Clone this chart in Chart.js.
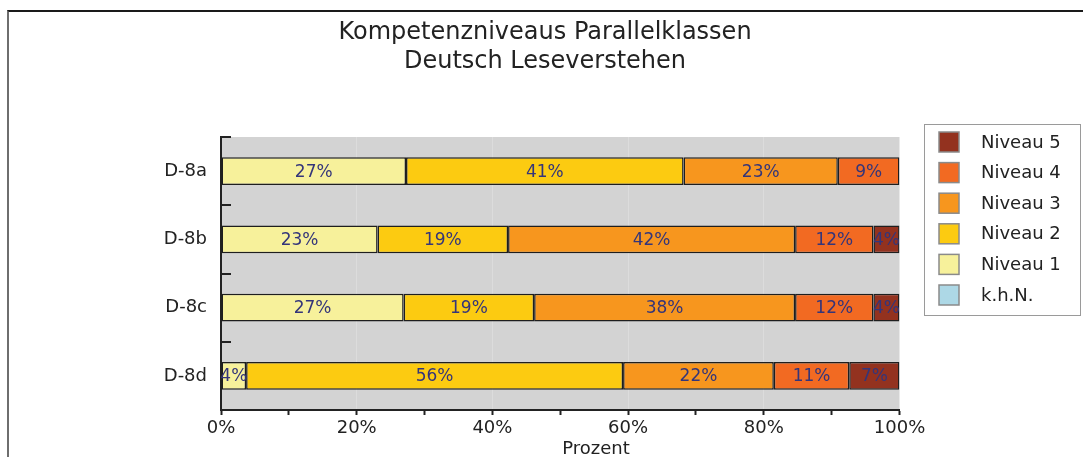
<!DOCTYPE html>
<html>
<head>
<meta charset="utf-8">
<script src="https://cdn.jsdelivr.net/npm/chart.js@4/dist/chart.umd.min.js"></script>
<style>
  html, body { margin: 0; padding: 0; background: #fff; }
  #wrap { position: relative; width: 1083px; height: 457px; overflow: hidden; }
  #frame { position: absolute; left: 7px; top: 10px; right: 0; bottom: 0;
           border-top: 2px solid #1a1a1a; border-left: 2px solid #6e6e6e; pointer-events: none; }
</style>
</head>
<body>
<div id="wrap">
  <canvas id="c" width="1083" height="457"></canvas>
  <div id="frame"></div>
</div>
<script>
// values (percent of pupils per level)
const categories = ['D-8a', 'D-8b', 'D-8c', 'D-8d'];
const khn     = [0, 0, 0, 0];
const niveau1 = [27.27, 23.08, 26.92, 3.70];
const niveau2 = [40.91, 19.23, 19.23, 55.56];
const niveau3 = [22.73, 42.31, 38.46, 22.22];
const niveau4 = [9.09, 11.54, 11.54, 11.11];
const niveau5 = [0, 3.85, 3.85, 7.41];
const xTicks = [0, 20, 40, 60, 80, 100];

const titleLines = ['Kompetenzniveaus Parallelklassen', 'Deutsch Leseverstehen'];
const FONT = 'DejaVu Sans';

// grey plot background
const plotBg = {
  id: 'plotBg',
  beforeDraw(chart) {
    const { ctx, chartArea: a } = chart;
    ctx.save();
    ctx.fillStyle = '#d3d3d3';
    ctx.fillRect(a.left, a.top, a.right - a.left, a.bottom - a.top);
    ctx.restore();
  }
};

// percent labels inside the segments, inside ticks of the category axis
const barLabels = {
  id: 'barLabels',
  afterDatasetsDraw(chart) {
    const ctx = chart.ctx;
    ctx.save();
    ctx.font = '17px "' + FONT + '"';
    ctx.fillStyle = '#34357a';
    ctx.textAlign = 'center';
    ctx.textBaseline = 'middle';
    chart.data.datasets.forEach((ds, i) => {
      chart.getDatasetMeta(i).data.forEach((bar, j) => {
        const v = ds.data[j];
        if (!v) return;
        ctx.fillText(Math.round(v) + '%', (bar.x + bar.base) / 2, bar.y + 1);
      });
    });
    // y axis ticks pointing into the plot
    const y = chart.scales.y;
    const half = (y.getPixelForValue(1) - y.getPixelForValue(0)) / 2;
    ctx.strokeStyle = '#222';
    ctx.lineWidth = 2;
    for (let i = 0; i < categories.length; i++) {
      const yy = Math.round(y.getPixelForValue(i) - half);
      ctx.beginPath();
      ctx.moveTo(chart.chartArea.left, yy);
      ctx.lineTo(chart.chartArea.left + 10, yy);
      ctx.stroke();
    }
    ctx.restore();
  }
};

// title, legend box and axis title
const decor = {
  id: 'decor',
  afterDraw(chart) {
    const ctx = chart.ctx;
    ctx.save();
    ctx.fillStyle = '#222';
    ctx.textAlign = 'center';
    ctx.textBaseline = 'middle';
    ctx.font = '24px "' + FONT + '"';
    ctx.fillText(titleLines[0], 545, 33);
    ctx.fillText(titleLines[1], 545, 62);

    ctx.font = '18px "' + FONT + '"';
    ctx.textBaseline = 'top';
    ctx.fillText('Prozent', 596, 440);

    // legend
    ctx.fillStyle = '#fff';
    ctx.fillRect(924.5, 124.5, 156, 191);
    ctx.strokeStyle = '#9a9a9a';
    ctx.lineWidth = 1;
    ctx.strokeRect(924.5, 124.5, 156, 191);
    const ds = chart.data.datasets.slice().reverse();
    ds.forEach((d, k) => {
      const top = 132 + k * 30.6;
      ctx.fillStyle = d.backgroundColor;
      ctx.fillRect(939, top, 20, 20);
      ctx.strokeStyle = '#8a8a8a';
      ctx.lineWidth = 1.5;
      ctx.strokeRect(939, top, 20, 20);
      ctx.fillStyle = '#222';
      ctx.textAlign = 'left';
      ctx.textBaseline = 'middle';
      ctx.fillText(d.label, 981, top + 11);
    });
    ctx.restore();
  }
};

function series(label, data, color) {
  return {
    label: label,
    data: data,
    backgroundColor: color,
    borderColor: '#1e1e1e',
    borderWidth: 1.5,
    borderSkipped: false,
    barPercentage: 0.41,
    categoryPercentage: 1
  };
}

new Chart(document.getElementById('c'), {
  type: 'bar',
  data: {
    labels: categories,
    datasets: [
      series('k.h.N.', khn, '#add8e6'),
      series('Niveau 1', niveau1, '#f7f19b'),
      series('Niveau 2', niveau2, '#fccb11'),
      series('Niveau 3', niveau3, '#f7961e'),
      series('Niveau 4', niveau4, '#f26a22'),
      series('Niveau 5', niveau5, '#93321f')
    ]
  },
  options: {
    indexAxis: 'y',
    responsive: false,
    animation: false,
    layout: { padding: { left: 0, top: 137, right: 183.5, bottom: 0 } },
    plugins: { legend: { display: false }, title: { display: false }, tooltip: { enabled: false } },
    scales: {
      x: {
        stacked: true,
        min: 0,
        max: 100,
        afterFit: s => { s.height = 47; },
        afterBuildTicks: s => { s.ticks = [0, 10, 20, 30, 40, 50, 60, 70, 80, 90, 100].map(v => ({ value: v })); },
        ticks: {
          autoSkip: false,
          maxRotation: 0,
          padding: 3,
          color: '#222',
          font: { family: FONT, size: 18 },
          callback: v => xTicks.includes(v) ? v + '%' : ''
        },
        grid: {
          drawTicks: true,
          tickLength: 5,
          tickColor: '#222',
          tickWidth: 2,
          lineWidth: 1,
          color: c => (c.tick && c.tick.value % 20 === 0 && c.tick.value > 0 && c.tick.value < 100) ? '#dcdcdc' : 'rgba(0,0,0,0)'
        },
        border: { display: true, color: '#222', width: 2 }
      },
      y: {
        stacked: true,
        afterFit: s => { s.width = 221; },
        ticks: {
          padding: 14,
          color: '#222',
          font: { family: FONT, size: 18 }
        },
        grid: { display: false, drawTicks: false, offset: true },
        border: { display: true, color: '#222', width: 2 }
      }
    }
  },
  plugins: [plotBg, barLabels, decor]
});
</script>
</body>
</html>
